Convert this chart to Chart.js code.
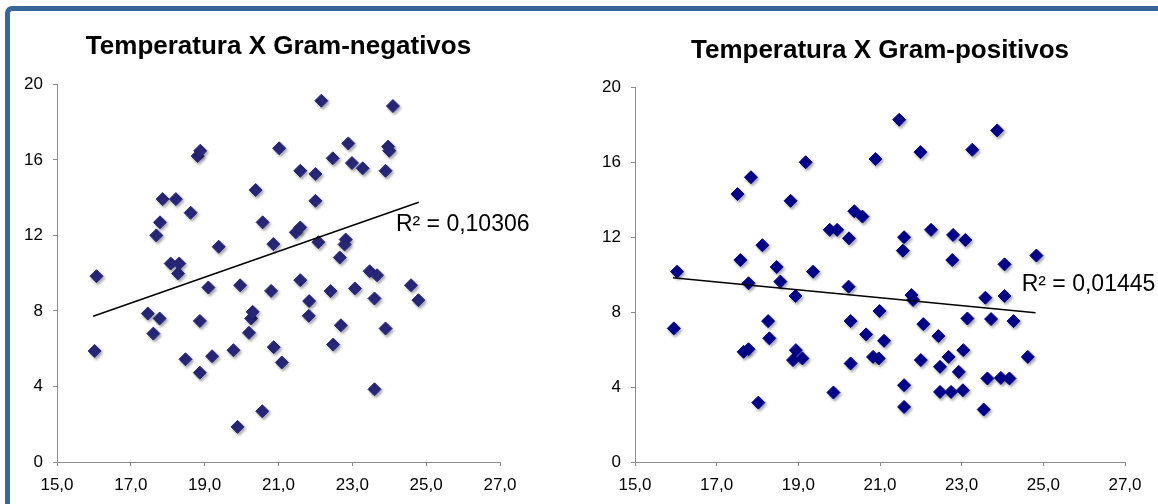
<!DOCTYPE html>
<html>
<head>
<meta charset="utf-8">
<script src="https://cdn.jsdelivr.net/npm/chart.js@4.4.1/dist/chart.umd.min.js"></script>
<style>
  body { margin: 0; background: #fff; width: 1158px; height: 504px; overflow: hidden; position: relative; }
  #frame { position: absolute; left: 5px; top: 6px; width: 1200px; height: 600px;
           border-top: 5px solid #3a6599; border-left: 5px solid #3a6599; border-top-left-radius: 7px; }
  .box { position: absolute; top: 0; height: 504px; }
</style>
</head>
<body>
<div id="frame"></div>
<div class="box" style="left:0;width:578px"><canvas id="negChart"></canvas></div>
<div class="box" style="left:578px;width:580px"><canvas id="posChart"></canvas></div>
<script>
// tick labels
var xTickValues = [15, 17, 19, 21, 23, 25, 27];
var yTickValues = [0, 4, 8, 12, 16, 20];

// Temperatura X Gram-negativos
var negTemp = [16.07, 16.02, 17.46, 17.78, 17.61, 17.69, 17.79, 17.86, 18.22, 18.08, 18.31, 18.28,
  18.62, 18.81, 18.88, 18.48, 18.87, 18.87, 19.10, 19.20, 19.38, 19.78, 19.96, 19.89, 20.20, 20.26,
  20.30, 20.38, 20.57, 20.56, 20.86, 20.80, 20.87, 21.09, 21.02, 21.59, 21.47, 21.59, 21.59, 21.83,
  21.82, 22.00, 22.00, 22.08, 22.16, 22.47, 22.41, 22.48, 22.66, 22.69, 22.82, 22.79, 22.89, 22.99,
  23.07, 23.28, 23.47, 23.67, 23.60, 23.60, 23.90, 23.97, 24.00, 24.10, 23.90, 24.59, 24.79];
var negCount = [9.84, 5.88, 7.86, 7.60, 6.80, 12.00, 12.69, 13.92, 13.92, 10.51, 10.51, 9.98,
  13.20, 16.20, 16.48, 5.44, 7.47, 4.73, 9.24, 5.60, 11.40, 5.92, 9.36, 1.86, 6.84, 7.60,
  7.95, 14.40, 12.69, 2.69, 11.54, 9.06, 6.08, 5.27, 16.61, 15.42, 12.16, 12.42, 9.63, 8.52,
  7.74, 15.25, 13.83, 11.64, 19.13, 16.08, 9.05, 6.22, 10.83, 7.24, 11.78, 11.52, 16.87, 15.83,
  9.19, 15.55, 10.10, 9.89, 8.66, 3.85, 15.42, 16.70, 16.48, 18.85, 7.07, 9.36, 8.57];
var negTrendX = [15.98, 24.80];
var negTrendY = [7.72, 13.75];
var negR2 = 'R² = 0,10306';

// Temperatura X Gram-positivos
var posTemp = [15.95, 16.03, 17.51, 17.84, 17.58, 17.78, 17.66, 17.78, 18.02, 18.12, 18.26, 18.29,
  18.47, 18.56, 18.81, 18.93, 18.87, 18.94, 19.10, 19.18, 19.36, 19.77, 19.95, 19.86, 20.24, 20.23,
  20.28, 20.28, 20.37, 20.57, 20.66, 20.89, 20.83, 20.97, 20.99, 21.10, 21.47, 21.59, 21.56, 21.59,
  21.59, 21.77, 21.81, 21.99, 22.06, 22.00, 22.25, 22.43, 22.47, 22.47, 22.68, 22.74, 22.79, 22.77,
  22.93, 23.09, 23.14, 23.04, 23.03, 23.26, 23.58, 23.63, 23.54, 23.72, 23.87, 24.05, 24.05, 23.96,
  24.17, 24.27, 24.62, 24.83];
var posCount = [7.13, 10.16, 14.30, 15.20, 10.78, 9.54, 5.88, 6.02, 3.17, 11.57, 7.52, 6.60,
  10.41, 9.63, 13.94, 8.86, 5.44, 5.97, 5.53, 16.00, 10.16, 12.39, 12.39, 3.71, 11.94, 9.36,
  7.52, 5.26, 13.39, 13.10, 6.81, 16.17, 5.61, 5.53, 8.06, 6.47, 18.27, 12.00, 11.28, 4.10,
  2.94, 8.91, 8.65, 16.54, 7.36, 5.44, 12.39, 6.72, 5.08, 3.74, 5.61, 3.74, 12.12, 10.78,
  4.81, 11.85, 7.66, 5.97, 3.83, 16.67, 8.77, 4.46, 2.80, 7.63, 17.70, 10.55, 8.86, 4.49,
  4.46, 7.52, 5.61, 11.02];
var posTrendX = [15.93, 24.81];
var posTrendY = [9.84, 7.97];
var posR2 = 'R² = 0,01445';

function toPoints(xs, ys) {
  return xs.map(function(x, i) { return { x: x, y: ys[i] }; });
}

// soft drop shadow under the diamonds
var markerShadow = {
  id: 'markerShadow',
  beforeDatasetDraw: function(chart, args) {
    if (chart.data.datasets[args.index].type === 'line') return;
    var ctx = chart.ctx;
    ctx.save();
    ctx.shadowColor = 'rgba(0,0,0,0.35)';
    ctx.shadowBlur = 3;
    ctx.shadowOffsetX = 1.5;
    ctx.shadowOffsetY = 2;
  },
  afterDatasetDraw: function(chart, args) {
    if (chart.data.datasets[args.index].type === 'line') return;
    chart.ctx.restore();
  }
};

// R² text next to the trend line
var r2Label = {
  id: 'r2Label',
  afterDatasetsDraw: function(chart, args, opts) {
    var ctx = chart.ctx;
    ctx.save();
    ctx.font = '23px "Liberation Sans", Arial, sans-serif';
    ctx.fillStyle = '#000';
    ctx.textBaseline = 'middle';
    ctx.textAlign = 'left';
    ctx.fillText(opts.text, chart.scales.x.getPixelForValue(opts.at[0]), chart.scales.y.getPixelForValue(opts.at[1]));
    ctx.restore();
  }
};

function makeChart(id, title, xs, ys, tx, ty, color, r2, r2At, pad) {
  var tickFont = { family: '"Liberation Sans", Arial, sans-serif', size: 17 };
  return new Chart(document.getElementById(id), {
    data: {
      datasets: [{
        type: 'line',
        data: toPoints(tx, ty),
        borderColor: '#000',
        borderWidth: 1.5,
        pointRadius: 0,
        fill: false,
        order: 0
      }, {
        type: 'scatter',
        data: toPoints(xs, ys),
        backgroundColor: color,
        borderColor: color,
        borderWidth: 1,
        pointStyle: 'rectRot',
        pointRadius: 6.5,
        order: 1
      }]
    },
    options: {
      responsive: true,
      maintainAspectRatio: false,
      animation: false,
      events: [],
      layout: { padding: { left: 0, right: pad.right, top: 0, bottom: 0 } },
      plugins: {
        legend: { display: false },
        tooltip: { enabled: false },
        title: {
          display: true,
          text: title,
          fullSize: false,
          color: '#000',
          font: { family: '"Liberation Sans", Arial, sans-serif', size: 26, weight: 'bold', lineHeight: 1.2 },
          padding: { top: pad.titleTop, bottom: pad.titleBottom }
        },
        r2Label: { text: r2, at: r2At }
      },
      scales: {
        x: {
          type: 'linear',
          min: 15, max: 27,
          afterBuildTicks: function(s) { s.ticks = xTickValues.map(function(v) { return { value: v }; }); },
          afterFit: function(s) { s.height = 42; },
          grid: { drawOnChartArea: false, drawTicks: true, tickLength: 4, color: '#8c8c8c' },
          border: { display: true, color: '#8c8c8c', width: 1 },
          ticks: {
            color: '#000', font: tickFont, padding: 9, maxRotation: 0,
            callback: function(v) { return v.toFixed(1).replace('.', ','); }
          }
        },
        y: {
          type: 'linear',
          min: 0, max: 20,
          afterBuildTicks: function(s) { s.ticks = yTickValues.map(function(v) { return { value: v }; }); },
          afterFit: function(s) { s.width = pad.axis; },
          grid: { drawOnChartArea: false, drawTicks: true, tickLength: 4, color: '#8c8c8c' },
          border: { display: true, color: '#8c8c8c', width: 1 },
          ticks: { color: '#000', font: tickFont, padding: 10 }
        }
      }
    },
    plugins: [markerShadow, r2Label]
  });
}

makeChart('negChart', 'Temperatura X Gram-negativos', negTemp, negCount, negTrendX, negTrendY,
  '#28287a', negR2, [24.18, 12.56], { right: 78, axis: 57, titleTop: 30.9, titleBottom: 22.2 });
makeChart('posChart', 'Temperatura X Gram-positivos', posTemp, posCount, posTrendX, posTrendY,
  '#00008c', posR2, [24.47, 9.49], { right: 33, axis: 57, titleTop: 35.4, titleBottom: 20.7 });
</script>
</body>
</html>
